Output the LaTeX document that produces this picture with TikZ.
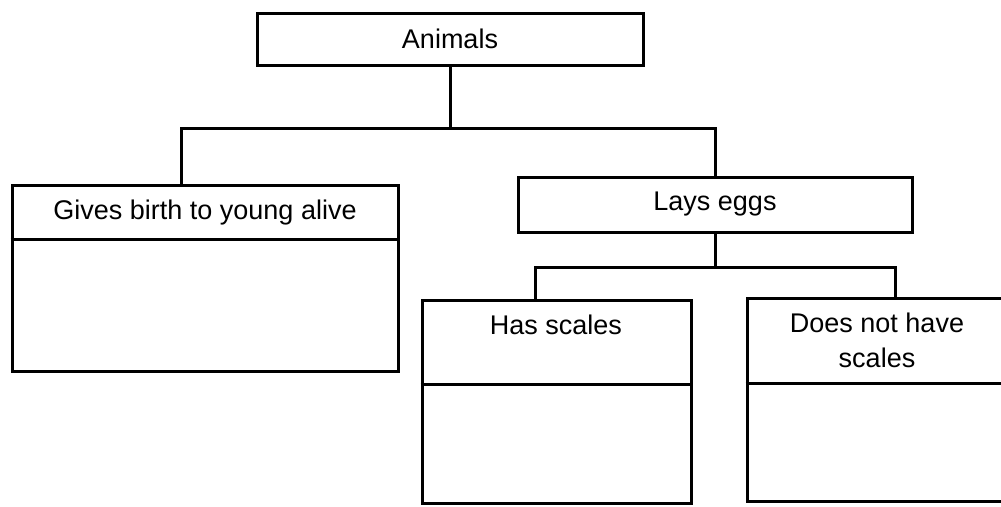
\documentclass[tikz,border=0pt]{standalone}
\usepackage{fontspec}
\setmainfont{Liberation Sans}
\begin{document}
\begin{tikzpicture}[x=1pt,y=-1pt,
  box/.style={draw=black,line width=3pt,rectangle,inner sep=0pt,anchor=center},
  lbl/.style={inner sep=0pt,align=center,font=\fontsize{27pt}{35pt}\selectfont},
  conn/.style={draw=black,line width=3pt}]
\useasboundingbox[fill=white] (0,0) rectangle (1001,506);
% boxes
\node[box,minimum width=386pt,minimum height=52pt,lbl] (animals) at (450,39) {Animals};
\node[box,minimum width=386pt,minimum height=186pt] (birth) at (205,278) {};
\node[lbl] (birthlbl) at (205,213) {Gives birth to young alive};
\node[box,minimum width=394pt,minimum height=55pt,lbl] (eggs) at (715,204.5) {Lays eggs};
\node[box,minimum width=269pt,minimum height=203pt] (scales) at (556.5,401.5) {};
\node[lbl] (scaleslbl) at (556,325) {Has scales};
\node[box,minimum width=259pt,minimum height=203pt] (noscales) at (876.5,399.5) {};
\node[lbl] (noscaleslbl) at (877,340) {Does not have\\scales};
% dividers
\draw[conn] ([yshift=-56pt]birth.north west) -- ([yshift=-56pt]birth.north east);
\draw[conn] ([yshift=-86pt]scales.north west) -- ([yshift=-86pt]scales.north east);
\draw[conn] ([yshift=-87pt]noscales.north west) -- ([yshift=-87pt]noscales.north east);
% connectors
\coordinate (j1) at (450,128);
\coordinate (j2) at (715,267);
\draw[conn] (animals.south) -- (j1);
\draw[conn] ([xshift=171pt]birth.north west) |- (j1) -| (eggs.north);
\draw[conn] (eggs.south) -- (j2);
\draw[conn] ([xshift=115pt]scales.north west) |- (j2) -| ([xshift=150pt]noscales.north west);
\end{tikzpicture}
\end{document}
